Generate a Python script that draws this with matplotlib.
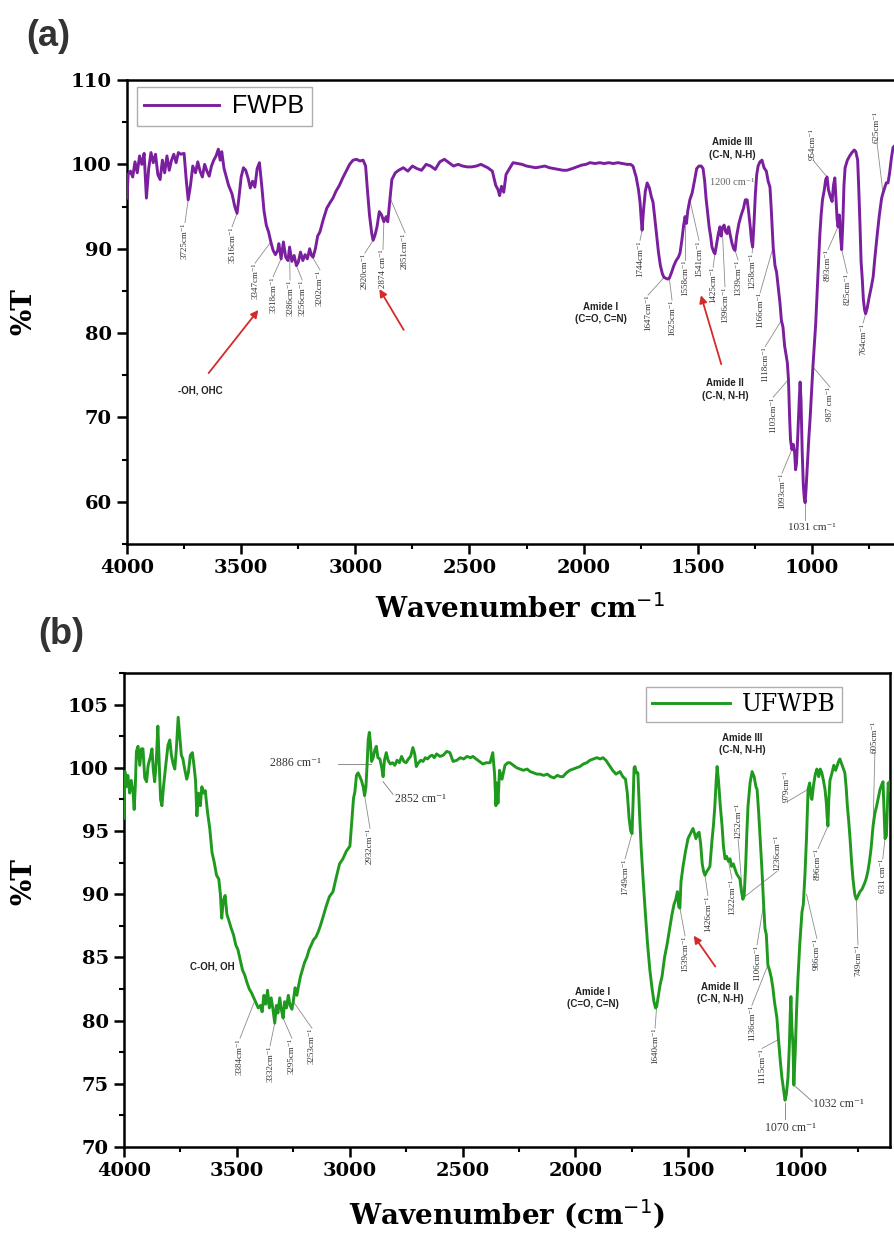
import matplotlib
matplotlib.use("Agg")
import matplotlib.pyplot as plt
from matplotlib.ticker import MultipleLocator

# ---------------- data: FWPB (panel a) ----------------
wn_a = [4000, 3995, 3985, 3975, 3965, 3955, 3945, 3935, 3925, 3915, 3905, 3895, 3885, 3875,
        3865, 3855, 3845, 3835, 3825, 3815, 3805, 3795, 3785, 3775, 3765, 3750, 3740, 3732,
        3722, 3712, 3700, 3690, 3680, 3670, 3660, 3650, 3640, 3630, 3620, 3610, 3600, 3592,
        3585, 3575, 3565, 3555, 3540, 3528, 3518, 3510, 3500, 3490, 3480, 3470, 3460, 3450,
        3440, 3430, 3420, 3410, 3400, 3390, 3380, 3370, 3360, 3350, 3340, 3335, 3325, 3315,
        3305, 3295, 3288, 3278, 3268, 3258, 3250, 3240, 3230, 3220, 3210, 3200, 3192, 3185,
        3175, 3165, 3155, 3140, 3125, 3110, 3098, 3085, 3070, 3055, 3040, 3025, 3010, 2995,
        2980, 2966, 2955, 2948, 2938, 2928, 2922, 2914, 2905, 2895, 2885, 2875, 2865, 2858,
        2848, 2840, 2825, 2810, 2790, 2770, 2750, 2730, 2710, 2690, 2670, 2650, 2630, 2610,
        2590, 2570, 2550, 2530, 2510, 2490, 2470, 2450, 2420, 2400, 2385, 2375, 2368, 2360,
        2350, 2340, 2325, 2309, 2290, 2270, 2250, 2230, 2210, 2190, 2170, 2150, 2130, 2110,
        2090, 2073, 2050, 2030, 2010, 1990, 1972, 1950, 1930, 1910, 1890, 1870, 1850, 1830,
        1810, 1795, 1784, 1770, 1760, 1753, 1748, 1744, 1738, 1730, 1722, 1712, 1704, 1696,
        1688, 1680, 1672, 1664, 1655, 1648, 1640, 1632, 1625, 1615, 1605, 1595, 1585, 1578,
        1570, 1562, 1556, 1550, 1544, 1535, 1525, 1515, 1505, 1495, 1485, 1477, 1470, 1464,
        1458, 1450, 1444, 1438, 1430, 1425, 1418, 1410, 1403, 1398, 1393, 1385, 1378, 1372,
        1365, 1358, 1350, 1343, 1337, 1330, 1320, 1310, 1300, 1292, 1284, 1278, 1270, 1265,
        1260, 1254, 1248, 1242, 1236, 1228, 1219, 1210, 1200, 1192, 1184, 1178, 1170, 1162,
        1155, 1148, 1140, 1134, 1127, 1120, 1113, 1108, 1103, 1098, 1094, 1088, 1082, 1076,
        1072, 1068, 1062, 1056, 1052, 1048, 1043, 1038, 1034, 1030, 1026, 1020, 1014, 1008,
        1002, 996, 990, 984, 978, 972, 966, 960, 954, 946, 940, 934, 928, 920, 912, 906,
        900, 895, 890, 886, 880, 875, 870, 865, 860, 855, 845, 835, 825, 815, 808, 800,
        795, 790, 785, 780, 775, 770, 765, 758, 750, 740, 732, 725, 715, 705, 695, 689,
        682, 675, 667, 660, 652, 645, 638]
t_a = [96.0, 98.8, 99.2, 98.5, 100.3, 99.0, 101.0, 100.0, 101.3, 96.0, 99.5, 101.4, 100.2, 101.2,
       98.8, 98.2, 100.5, 99.0, 101.0, 99.3, 100.5, 101.2, 100.2, 101.4, 101.2, 101.3, 98.0, 95.8,
       97.5, 99.8, 99.0, 100.3, 99.2, 98.5, 100.0, 99.2, 98.6, 99.8, 100.5, 101.0, 101.8, 100.5,
       101.5, 99.5, 98.5, 97.5, 96.5, 95.0, 94.2, 96.0, 98.5, 99.6, 99.3, 98.4, 97.2, 98.0,
       97.3, 99.5, 100.2, 97.5, 94.5, 92.8, 92.0, 90.8, 89.8, 89.3, 89.8, 90.6, 88.8, 90.8,
       89.0, 88.6, 90.2, 88.5, 89.2, 88.0, 88.4, 89.6, 88.6, 89.3, 88.8, 90.0, 89.2, 89.0,
       90.0, 91.5, 92.0, 93.5, 94.8, 95.5, 96.0, 96.8, 97.5, 98.4, 99.2, 100.0, 100.5, 100.6,
       100.4, 100.5, 99.8, 97.3, 94.0, 91.8, 91.0, 91.6, 92.6, 94.4, 94.0, 93.2, 93.8, 93.2,
       96.0, 98.2, 99.0, 99.3, 99.6, 99.2, 99.8, 99.5, 99.3, 100.0, 99.8, 99.4, 100.3, 100.6,
       100.2, 99.8, 100.0, 99.8, 99.7, 99.7, 99.8, 100.0, 99.6, 99.2, 97.5, 97.0, 96.3, 97.4,
       96.7, 98.8, 99.5, 100.2, 100.1, 100.0, 99.8, 99.7, 99.6, 99.7, 99.8, 99.6, 99.5, 99.4,
       99.3, 99.3, 99.5, 99.7, 99.9, 100.0, 100.2, 100.1, 100.2, 100.1, 100.2, 100.1, 100.2, 100.1,
       100.0, 100.0, 99.8, 98.5, 97.0, 95.5, 93.5, 92.2, 94.5, 96.8, 97.8, 97.2, 96.2, 95.5,
       93.5, 91.5, 89.5, 88.0, 87.0, 86.6, 86.5, 86.4, 86.5, 87.2, 88.0, 88.6, 89.0, 89.5,
       91.0, 92.8, 93.8, 93.0, 94.5, 95.8, 96.6, 98.0, 99.5, 99.8, 99.8, 99.5, 98.0, 96.0,
       94.5, 92.5, 91.5, 90.2, 89.6, 89.4, 90.5, 91.8, 92.6, 91.5, 92.4, 92.8, 92.0, 91.8,
       92.6, 91.6, 90.6, 90.0, 89.8, 91.5, 93.0, 94.0, 94.8, 95.8, 95.8, 94.5, 92.5, 91.0,
       90.2, 93.0, 96.5, 98.8, 99.8, 100.3, 100.5, 99.6, 99.2, 98.0, 97.3, 94.5, 90.2, 88.0,
       87.2, 85.5, 83.5, 81.5, 80.7, 78.5, 77.3, 76.5, 74.5, 70.0, 67.3, 66.2, 66.8, 65.8,
       63.8, 64.5, 68.0, 72.0, 74.2, 72.0, 66.0, 62.0, 60.5, 59.9, 61.5, 64.5, 67.5, 70.0,
       73.0, 76.0, 78.5, 81.0, 84.5, 88.0, 91.5, 94.0, 95.8, 97.0, 98.2, 98.5, 97.0, 96.2, 95.6, 97.5,
       98.4, 96.0, 93.5, 92.6, 94.0, 91.5, 89.9, 93.0, 97.5, 99.6, 100.5, 101.0, 101.4, 101.7, 101.5, 100.5,
       97.0, 93.0, 88.5, 86.5, 84.0, 82.8, 82.3, 83.0, 84.2, 85.5, 86.7, 88.8, 91.5, 94.0, 96.0, 96.6,
       97.2, 97.8, 97.8, 99.0, 100.8, 102.0, 102.2]

# ---------------- data: UFWPB (panel b) ----------------
wn_b = [4000, 3996, 3990, 3983, 3975, 3968, 3960, 3955, 3950, 3945, 3938, 3930, 3923, 3916,
        3908, 3900, 3893, 3884, 3876, 3870, 3864, 3857, 3850, 3843, 3838, 3832, 3825, 3815,
        3805, 3797, 3790, 3782, 3775, 3768, 3760, 3753, 3746, 3739, 3730, 3722, 3715, 3706,
        3697, 3690, 3683, 3677, 3670, 3662, 3655, 3648, 3640, 3630, 3620, 3610, 3600, 3590,
        3580, 3573, 3567, 3560, 3552, 3544, 3535, 3525, 3515, 3505, 3495, 3485, 3475, 3465,
        3455, 3445, 3435, 3425, 3415, 3405, 3395, 3388, 3380, 3372, 3364, 3356, 3348, 3340,
        3332, 3325, 3318, 3310, 3302, 3295, 3288, 3280, 3272, 3264, 3256, 3250, 3242, 3234,
        3226, 3218, 3210, 3200, 3190, 3180, 3170, 3160, 3150, 3140, 3130, 3118, 3105, 3090,
        3074, 3060, 3045, 3030, 3015, 2999, 2990, 2983, 2977, 2970, 2963, 2955, 2948, 2940,
        2934, 2928, 2923, 2918, 2913, 2908, 2903, 2896, 2889, 2882, 2875, 2866, 2858, 2852,
        2846, 2838, 2830, 2820, 2810, 2800, 2790, 2780, 2770, 2760, 2750, 2740, 2730, 2720,
        2712, 2705, 2695, 2685, 2675, 2665, 2655, 2645, 2635, 2625, 2615, 2600, 2585, 2570,
        2556, 2542, 2525, 2510, 2495, 2480, 2465, 2454, 2440, 2425, 2410, 2395, 2378, 2366,
        2358, 2352, 2348, 2343, 2336, 2325, 2312, 2300, 2290, 2275, 2260, 2245, 2230, 2214,
        2200, 2185, 2170, 2157, 2140, 2125, 2110, 2095, 2080, 2066, 2055, 2040, 2025, 2010,
        1995, 1980, 1965, 1950, 1935, 1920, 1905, 1890, 1878, 1865, 1850, 1835, 1820, 1802,
        1790, 1778, 1770, 1762, 1755, 1749, 1744, 1740, 1736, 1730, 1723, 1716, 1708, 1700,
        1690, 1680, 1670, 1660, 1652, 1645, 1640, 1632, 1625, 1616, 1605, 1594, 1583, 1572,
        1563, 1555, 1548, 1542, 1537, 1532, 1523, 1512, 1501, 1490, 1479, 1472, 1466, 1458,
        1452, 1445, 1438, 1432, 1426, 1418, 1410, 1404, 1395, 1388, 1382, 1376, 1372, 1366,
        1358, 1350, 1344, 1337, 1330, 1322, 1315, 1308, 1300, 1293, 1285, 1278, 1271, 1264,
        1258, 1252, 1245, 1240, 1235, 1226, 1217, 1208, 1200, 1195, 1188, 1180, 1173, 1166,
        1160, 1154, 1147, 1140, 1132, 1125, 1118, 1112, 1107, 1100, 1092, 1085, 1078, 1071,
        1065, 1058, 1052, 1048, 1045, 1041, 1036, 1032, 1026, 1020, 1014, 1006, 996, 990,
        983, 976, 969, 962, 955, 952, 945, 937, 930, 922, 915, 908, 901, 894,
        888, 884, 881, 877, 872, 863, 855, 847, 841, 834, 828, 820, 812, 806,
        800, 795, 789, 783, 776, 770, 765, 761, 755, 747, 739, 730, 720, 712,
        704, 697, 690, 681, 673, 665, 658, 650, 644, 637, 632, 628, 622, 618,
        614, 610, 606]
t_b = [96.0, 99.7, 98.5, 99.4, 98.0, 99.0, 98.1, 96.7, 98.5, 101.3, 101.7, 100.2, 101.5, 101.5,
       99.2, 98.9, 100.2, 100.8, 101.5, 99.8, 98.9, 100.5, 103.3, 100.0, 97.5, 97.0, 98.5, 100.2,
       101.8, 102.2, 101.0, 100.3, 99.9, 101.5, 104.0, 102.5, 101.0, 100.7, 99.8, 99.1, 99.6, 101.0,
       101.2, 100.2, 99.0, 96.2, 98.0, 97.0, 98.5, 98.0, 98.2, 96.5, 95.2, 93.3, 92.5, 91.5,
       91.2, 90.0, 88.1, 89.5, 89.9, 88.4, 87.9, 87.3, 86.8, 86.0, 85.6, 84.8, 84.0, 83.6,
       83.0, 82.5, 82.2, 81.8, 81.4, 81.0, 81.2, 80.7, 82.0, 81.3, 82.4, 81.0, 81.8, 80.9,
       79.8, 81.2, 80.6, 81.8, 80.8, 80.2, 81.5, 81.0, 82.0, 81.2, 80.9, 81.5, 82.6, 82.0,
       82.8, 83.5, 84.0, 84.6, 85.0, 85.6, 86.0, 86.4, 86.6, 87.0, 87.5, 88.2, 89.0, 89.8,
       90.2, 91.3, 92.4, 92.8, 93.4, 93.8, 96.0, 97.6, 98.1, 99.4, 99.6, 99.3, 99.0, 98.5,
       97.8, 98.5, 100.2, 102.2, 102.8, 102.0, 100.5, 100.8, 101.4, 101.7, 100.8, 100.7, 100.0, 99.3,
       100.6, 101.2, 100.6, 100.3, 100.4, 100.2, 100.6, 100.4, 100.9, 100.5, 100.4, 100.7, 100.9, 101.6,
       101.1, 100.1, 100.4, 100.6, 100.5, 100.8, 100.7, 100.9, 101.0, 100.8, 101.1, 100.9, 101.0, 101.3,
       101.2, 100.5, 100.6, 100.8, 100.7, 100.9, 100.8, 100.9, 100.7, 100.5, 100.3, 100.4, 100.4, 101.2,
       99.5, 97.0, 98.8, 97.2, 99.8, 99.1, 100.2, 100.4, 100.4, 100.2, 100.0, 99.9, 99.8, 99.9,
       99.7, 99.6, 99.5, 99.5, 99.4, 99.5, 99.3, 99.2, 99.4, 99.3, 99.3, 99.6, 99.8, 99.9,
       100.0, 100.1, 100.3, 100.4, 100.6, 100.7, 100.8, 100.7, 100.8, 100.6, 100.2, 99.8, 99.5, 99.7,
       99.3, 99.1, 98.0, 96.0, 95.0, 94.8, 97.5, 100.0, 100.1, 99.6, 99.6, 96.5, 93.5, 91.2,
       88.5, 86.0, 84.0, 82.5, 81.5, 81.0, 81.1, 82.0, 82.8, 83.5, 85.0, 86.0, 87.2, 88.4,
       89.2, 89.6, 90.2, 89.0, 88.9, 91.0, 92.2, 93.4, 94.4, 94.8, 95.2, 94.8, 94.4, 94.8,
       94.9, 94.0, 92.4, 91.8, 91.5, 91.8, 92.0, 92.2, 94.2, 95.5, 97.0, 99.0, 100.1, 99.0,
       97.0, 95.4, 93.8, 92.8, 93.0, 92.6, 92.8, 92.2, 92.4, 92.0, 91.6, 91.4, 91.2, 90.2,
       89.6, 89.9, 92.5, 95.0, 97.0, 98.8, 99.7, 99.3, 98.5, 98.3, 96.5, 94.0, 91.8, 89.2,
       87.3, 86.8, 84.4, 84.0, 83.4, 82.6, 81.5, 80.8, 80.2, 78.5, 76.8, 75.5, 74.6, 73.7,
       74.2, 75.5, 78.0, 80.5, 81.9, 79.5, 78.1, 74.9, 77.5, 80.8, 83.3, 86.0, 88.6, 89.2,
       91.5, 94.4, 98.3, 98.8, 97.6, 97.5, 98.6, 99.5, 99.9, 99.3, 99.9, 99.6, 99.0, 98.3,
       97.2, 96.0, 95.4, 97.5, 99.0, 99.6, 100.2, 99.8, 100.1, 100.5, 100.7, 100.3, 99.9, 99.6,
       98.4, 97.0, 95.8, 94.4, 92.5, 91.2, 90.4, 89.9, 89.6, 89.9, 90.2, 90.4, 90.8, 91.2,
       91.8, 92.6, 93.6, 95.4, 96.4, 97.0, 97.6, 98.3, 98.6, 98.9, 96.5, 94.4, 94.6, 96.8,
       98.8, 98.2, 98.9]

# peak labels: text, label x, label y, curve x, curve y, vertical anchor
peaks_a = [("3725cm⁻¹", 3746, 93.1, 3732, 95.8, "top"),
           ("3516cm⁻¹", 3540, 92.6, 3518, 94.2, "top"),
           ("3347cm⁻¹", 3439, 88.3, 3370, 90.8, "top"),
           ("3318cm⁻¹", 3360, 86.7, 3325, 88.8, "top"),
           ("3286cm⁻¹", 3286, 86.3, 3288, 90.2, "top"),
           ("3256cm⁻¹", 3233, 86.3, 3258, 88.0, "top"),
           ("3202cm⁻¹", 3155, 87.5, 3192, 89.2, "top"),
           ("2920cm⁻¹", 2958, 89.5, 2922, 91.0, "top"),
           ("2874 cm⁻¹", 2879, 89.9, 2875, 93.2, "top"),
           ("2851cm⁻¹", 2782, 91.9, 2848, 96.0, "top"),
           ("1744cm⁻¹", 1753, 91.0, 1744, 92.2, "top"),
           ("1647cm⁻¹", 1718, 84.5, 1648, 86.6, "top"),
           ("1625cm⁻¹", 1613, 83.9, 1625, 86.5, "top"),
           ("1558cm⁻¹", 1556, 88.7, 1556, 93.8, "top"),
           ("1541cm⁻¹", 1495, 91.0, 1535, 95.8, "top"),
           ("1425cm⁻¹", 1433, 87.8, 1425, 89.4, "top"),
           ("1396cm⁻¹", 1381, 85.5, 1393, 92.4, "top"),
           ("1339cm⁻¹", 1324, 88.7, 1337, 89.8, "top"),
           ("1258cm⁻¹", 1262, 89.5, 1260, 90.2, "top"),
           ("1166cm⁻¹", 1227, 84.8, 1170, 90.2, "top"),
           ("1118cm⁻¹", 1205, 78.4, 1134, 81.5, "top"),
           ("1103cm⁻¹", 1170, 72.4, 1103, 74.5, "top"),
           ("1093cm⁻¹", 1131, 63.4, 1088, 66.2, "top"),
           ("987 cm⁻¹", 921, 73.6, 996, 76.0, "top"),
           ("954cm⁻¹", 995, 100.5, 934, 98.5, "bottom"),
           ("893cm⁻¹", 930, 89.9, 886, 92.6, "top"),
           ("825cm⁻¹", 846, 87.1, 870, 89.9, "top"),
           ("764cm⁻¹", 776, 81.2, 765, 82.3, "top"),
           ("625cm⁻¹", 715, 102.5, 689, 96.6, "bottom")]

peaks_b = [("2932cm⁻¹", 2910, 95.2, 2934, 97.8, "top"),
           ("3384cm⁻¹", 3486, 78.6, 3420, 81.6, "top"),
           ("3332cm⁻¹", 3353, 78.0, 3332, 79.8, "top"),
           ("3295cm⁻¹", 3256, 78.6, 3295, 80.2, "top"),
           ("3253cm⁻¹", 3167, 79.4, 3250, 81.5, "top"),
           ("1749cm⁻¹", 1780, 92.8, 1749, 94.8, "top"),
           ("1640cm⁻¹", 1647, 79.4, 1640, 81.1, "top"),
           ("1539cm⁻¹", 1514, 86.7, 1537, 88.9, "top"),
           ("1426cm⁻¹", 1413, 89.9, 1426, 91.5, "top"),
           ("1322cm⁻¹", 1306, 91.2, 1322, 92.6, "top"),
           ("1252cm⁻¹", 1279, 94.4, 1258, 89.6, "bottom"),
           ("1236cm⁻¹", 1107, 91.8, 1250, 89.8, "bottom"),
           ("1106cm⁻¹", 1195, 86.0, 1166, 89.2, "top"),
           ("1136cm⁻¹", 1218, 81.2, 1147, 84.4, "top"),
           ("1115cm⁻¹", 1173, 77.8, 1100, 78.5, "top"),
           ("979cm⁻¹", 1063, 97.3, 969, 98.3, "bottom"),
           ("986cm⁻¹", 930, 86.5, 976, 90.0, "top"),
           ("896cm⁻¹", 925, 93.6, 881, 95.4, "top"),
           ("749cm⁻¹", 748, 86.0, 755, 89.6, "top"),
           ("605cm⁻¹", 673, 101.2, 681, 95.4, "bottom"),
           ("631 cm⁻¹", 638, 92.8, 628, 94.4, "top")]

SERIF = ["Liberation Serif", "DejaVu Serif"]
WIDE_SERIF = ["DejaVu Serif"]
SANS = ["Liberation Sans", "DejaVu Sans"]
LEAD = "#8c8c8c"
RED = "#d42a2a"

fig = plt.figure(figsize=(8.94, 12.34), dpi=100)
W, H = 894.0, 1234.0


def style_axes(ax, ymaj, ymin):
    for s in ax.spines.values():
        s.set_linewidth(1.8)
    ax.xaxis.set_major_locator(MultipleLocator(500))
    ax.xaxis.set_minor_locator(MultipleLocator(250))
    ax.yaxis.set_major_locator(MultipleLocator(ymaj))
    ax.yaxis.set_minor_locator(MultipleLocator(ymin))
    ax.tick_params(which="major", direction="out", length=7, width=1.8, pad=4)
    ax.tick_params(which="minor", direction="out", length=3.5, width=1.5)
    ax.tick_params(top=False, right=False, which="both")
    for lab in ax.get_xticklabels() + ax.get_yticklabels():
        lab.set_fontfamily(WIDE_SERIF)
        lab.set_fontweight("bold")
        lab.set_fontsize(14)


def put_peaks(ax, peaks):
    for txt, tx, ty, px, py, va in peaks:
        ax.plot([px, tx], [py, ty], color=LEAD, lw=0.6, zorder=1)
        ax.text(tx, ty, txt, rotation=90, ha="center", va=va, fontsize=6.5,
                family=SERIF, color="#333333", zorder=4)


def amide(ax, x, y, txt):
    ax.text(x, y, txt, ha="center", va="center", fontsize=7, fontweight="bold",
            family=SANS, color="#222222", linespacing=1.3)


def arrow(ax, tail, head):
    ax.annotate("", xy=head, xytext=tail,
                arrowprops=dict(arrowstyle="-|>", color=RED, lw=1.3, mutation_scale=11))


# ---------------- panel (a) ----------------
ax1 = fig.add_axes([127 / W, 1 - 544 / H, (912 - 127) / W, (544 - 80) / H])
ax1.plot(wn_a, t_a, color="#7a1f9e", lw=2.1, label="FWPB", zorder=3)
ax1.set_xlim(4000, 562)
ax1.set_ylim(55, 110)
style_axes(ax1, 10, 5)
ax1.spines["right"].set_visible(False)
ax1.set_xlabel("Wavenumber cm$^{-1}$", fontsize=20, fontweight="bold",
               family=WIDE_SERIF, labelpad=12)
ax1.set_ylabel("%T", fontsize=20, fontweight="bold", family=WIDE_SERIF)
ax1.yaxis.set_label_coords(-0.1146, 0.5)
leg = ax1.legend(loc="upper left", bbox_to_anchor=(0.0127, 0.985), borderaxespad=0,
                 frameon=True, fancybox=False, handlelength=3.0, borderpad=0.3,
                 handletextpad=0.5, prop={"family": SANS, "size": 18})
leg.get_frame().set_edgecolor("#9a9a9a")
leg.get_frame().set_linewidth(1.0)
put_peaks(ax1, peaks_a)
ax1.plot([1030, 1030], [59.9, 57.9], color=LEAD, lw=0.6)
ax1.text(1000, 57.0, "1031 cm⁻¹", ha="center", va="center", fontsize=8,
         family=SERIF, color="#333333")
ax1.text(3677, 73.2, "-OH, OHC", ha="center", va="center", fontsize=7,
         fontweight="bold", family=SANS, color="#222222")
arrow(ax1, (3650, 75.0), (3417, 83.0))
arrow(ax1, (2782, 80.1), (2901, 85.5))
amide(ax1, 1924, 82.4, "Amide I\n(C=O, C=N)")
amide(ax1, 1350, 101.9, "Amide III\n(C-N, N-H)")
ax1.text(1350, 97.8, "1200 cm⁻¹", ha="center", va="center", fontsize=7.5,
         family=SERIF, color="#666666")
amide(ax1, 1381, 73.3, "Amide II\n(C-N, N-H)")
arrow(ax1, (1394, 76.0), (1490, 84.8))
fig.text(26 / W, 1 - 37 / H, "(a)", fontsize=26, fontweight="bold", family=SANS,
         color="#333333", va="center", ha="left")

# ---------------- panel (b) ----------------
ax2 = fig.add_axes([124 / W, 1 - 1147 / H, (890 - 124) / W, (1147 - 673) / H])
ax2.plot(wn_b, t_b, color="#1f9a1f", lw=2.1, label="UFWPB", zorder=3)
ax2.set_xlim(4000, 606)
ax2.set_ylim(70, 107.5)
style_axes(ax2, 5, 2.5)
ax2.set_xlabel("Wavenumber (cm$^{-1}$)", fontsize=20, fontweight="bold",
               family=WIDE_SERIF, labelpad=12)
ax2.set_ylabel("%T", fontsize=20, fontweight="bold", family=WIDE_SERIF)
ax2.yaxis.set_label_coords(-0.1136, 0.56)
leg2 = ax2.legend(loc="upper right", bbox_to_anchor=(0.937, 0.970), borderaxespad=0,
                  frameon=True, fancybox=False, handlelength=3.3, borderpad=0.25,
                  handletextpad=0.5, prop={"family": WIDE_SERIF, "size": 17})
leg2.get_frame().set_edgecolor("#9a9a9a")
leg2.get_frame().set_linewidth(1.0)
put_peaks(ax2, peaks_b)
ax2.plot([3050, 2905], [100.3, 100.3], color=LEAD, lw=0.7)
ax2.text(3242, 100.4, "2886 cm⁻¹", ha="center", va="center", fontsize=8.5,
         family=SERIF, color="#333333")
ax2.plot([2852, 2808], [98.9, 97.9], color=LEAD, lw=0.7)
ax2.text(2686, 97.5, "2852 cm⁻¹", ha="center", va="center", fontsize=8.5,
         family=SERIF, color="#333333")
ax2.plot([1071, 1071], [73.5, 72.2], color=LEAD, lw=0.7)
ax2.text(1049, 71.5, "1070 cm⁻¹", ha="center", va="center", fontsize=8.5,
         family=SERIF, color="#333333")
ax2.plot([1032, 950], [74.9, 73.6], color=LEAD, lw=0.7)
ax2.text(947, 73.4, "1032 cm⁻¹", ha="left", va="center", fontsize=8.5,
         family=SERIF, color="#333333")
ax2.text(3610, 84.3, "C-OH, OH", ha="center", va="center", fontsize=7,
         fontweight="bold", family=SANS, color="#222222")
amide(ax2, 1922, 81.8, "Amide I\n(C=O, C=N)")
amide(ax2, 1359, 82.2, "Amide II\n(C-N, N-H)")
amide(ax2, 1262, 101.9, "Amide III\n(C-N, N-H)")
arrow(ax2, (1373, 84.1), (1483, 86.9))
fig.text(38 / W, 1 - 634 / H, "(b)", fontsize=26, fontweight="bold", family=SANS,
         color="#333333", va="center", ha="left")

fig.savefig("out.png", dpi=100)
